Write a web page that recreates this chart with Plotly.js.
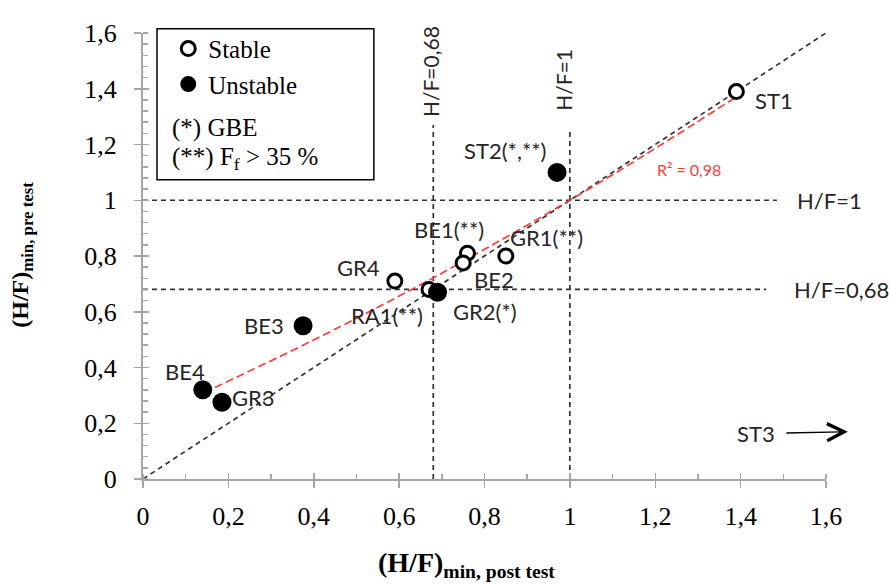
<!DOCTYPE html>
<html><head><meta charset="utf-8">
<script src="https://cdn.plot.ly/plotly-3.0.1.min.js"></script>
<style>html,body{margin:0;padding:0;background:#fff}#chart{width:889px;height:585px}</style>
</head><body><div id="chart"></div><script>
// ---- data ----
const stableNames = ['ST1','GR1(**)','BE1(**)','BE2','GR4','RA1(**)'];
const stableX = [1.39,0.85,0.76,0.75,0.59,0.67];
const stableY = [1.39,0.80,0.81,0.775,0.71,0.68];
const unstableNames = ['ST2(*,**)','GR2(*)','BE3','BE4','GR3'];
const unstableX = [0.97,0.69,0.375,0.14,0.185];
const unstableY = [1.10,0.67,0.55,0.32,0.275];
const trendX = [0.143,0.4,0.627,0.8,1.0,1.2,1.391];
const trendY = [0.31,0.499,0.678,0.824,1.0,1.186,1.372];
const identityLine = [0,1.6];
const thresholds = [0.68,1];
const thresholdLabels = ['H/F=0,68','H/F=1'];
const vLineTop = [1.27,1.245];
const hLineEnd = [1.46,1.485];
const r2Text = 'R² = 0,98';
const offscaleName = 'ST3';

// ---- styles / label placement ----
const labelOffsets = {
  'ST1':[38,-9],'GR1(**)':[41,19],'BE1(**)':[-18,24],'BE2':[31,-17],'GR4':[-36,14],
  'RA1(**)':[-42,-26],'ST2(*,**)':[-52,22],'GR2(*)':[47,-19],'BE3':[-39,0],'BE4':[-18,18],'GR3':[32,5]
};
const dashCol = '#333333';
const labelFont = {family:'Lato, "Open Sans", sans-serif', size:22, color:'#262626'};
const serif = 'Liberation Serif, "Times New Roman", serif';

const traces = [];
traces.push({x:identityLine, y:identityLine, mode:'lines', line:{color:dashCol,width:1.7,dash:'5px,4px'}, showlegend:false, hoverinfo:'skip'});
thresholds.forEach((t,i)=>{
  traces.push({x:[t,t], y:[0,vLineTop[i]], mode:'lines', line:{color:dashCol,width:1.7,dash:'5px,4px'}, showlegend:false, hoverinfo:'skip'});
  traces.push({x:[0,hLineEnd[i]], y:[t,t], mode:'lines', line:{color:dashCol,width:1.7,dash:'5px,4px'}, showlegend:false, hoverinfo:'skip'});
});
traces.push({x:trendX, y:trendY, mode:'lines', line:{color:'#ff3b3b',width:1.7,dash:'8px,4px',shape:'spline'}, showlegend:false, hoverinfo:'skip'});
traces.push({x:stableX, y:stableY, text:stableNames, mode:'markers', name:'Stable',
  marker:{size:14, color:'#ffffff', line:{color:'#000000',width:3}}});
traces.push({x:unstableX, y:unstableY, text:unstableNames, mode:'markers', name:'Unstable',
  marker:{size:19, color:'#000000', line:{color:'#000000',width:0}}});
// overlay axes (inside half of major ticks)
traces.push({x:[0], y:[0], xaxis:'x2', yaxis:'y2', mode:'markers', marker:{opacity:0}, showlegend:false, hoverinfo:'skip'});

const ann = [];
stableNames.concat(unstableNames).forEach((n,i)=>{
  const isS = i < stableNames.length;
  const x = isS ? stableX[i] : unstableX[i-stableNames.length];
  const y = isS ? stableY[i] : unstableY[i-stableNames.length];
  const o = labelOffsets[n];
  ann.push({x:x, y:y, xref:'x', yref:'y', text:n, showarrow:false, xshift:o[0], yshift:o[1], font:labelFont});
});
ann.push({x:thresholds[0], y:1.461, xref:'x', yref:'y', text:thresholdLabels[0], textangle:-90, showarrow:false, xshift:-3, font:Object.assign({},labelFont,{size:21})});
ann.push({x:thresholds[1], y:1.432, xref:'x', yref:'y', text:thresholdLabels[1], textangle:-90, showarrow:false, xshift:-6, font:Object.assign({},labelFont,{size:21})});
ann.push({x:1.527, y:thresholds[1], xref:'x', yref:'y', text:thresholdLabels[1], xanchor:'left', showarrow:false, font:labelFont});
ann.push({x:1.520, y:thresholds[0], xref:'x', yref:'y', text:thresholdLabels[0], xanchor:'left', showarrow:false, font:labelFont});
ann.push({x:1.279, y:1.11, xref:'x', yref:'y', text:r2Text, showarrow:false, font:{family:'Lato, sans-serif', size:16, color:'#ff3b3b'}});
ann.push({x:1.032, y:0.106, xref:'paper', yref:'paper', text:offscaleName, showarrow:true, ax:-92, ay:2, startstandoff:10,
  arrowhead:5, arrowsize:2.4, arrowwidth:1.4, arrowcolor:'#000000', font:labelFont});
// legend extra lines
ann.push({x:0.0395, y:0.788, xref:'paper', yref:'paper', xanchor:'left', yanchor:'middle', text:'(*) GBE', showarrow:false, font:{family:serif,size:25,color:'#000'}});
ann.push({x:0.0395, y:0.718, xref:'paper', yref:'paper', xanchor:'left', yanchor:'middle', text:'(**) F<sub>f</sub> > 35 %', showarrow:false, font:{family:serif,size:25,color:'#000'}});
// axis titles
ann.push({x:0.473, y:-0.192, xref:'paper', yref:'paper', xanchor:'center', yanchor:'middle', text:'<b>(H/F)<sub>min, post test</sub></b>', showarrow:false, font:{family:serif,size:28,color:'#000'}});
ann.push({x:-0.177, y:0.503, xref:'paper', yref:'paper', xanchor:'center', yanchor:'middle', textangle:-90, text:'<b>(H/F)<sub>min, pre test</sub></b>', showarrow:false, font:{family:serif,size:24,color:'#000'}});

const axisCommon = {
  range:[0,1.6], dtick:0.2, tick0:0, showgrid:false, zeroline:false, showline:true,
  linecolor:'#a6a6a6', linewidth:2, ticks:'outside', ticklen:7, tickwidth:1.5, tickcolor:'#a6a6a6',
  minor:{ticks:'inside', ticklen:5, tickwidth:1.5, tickcolor:'#a6a6a6', showgrid:false},
  tickfont:{family:serif, size:26, color:'#000'}, fixedrange:true
};

const layout = {
  width:889, height:585, margin:{l:143, r:63, t:33, b:106},
  paper_bgcolor:'#ffffff', plot_bgcolor:'#ffffff', separators:', ',
  xaxis: Object.assign({}, axisCommon, {minor:Object.assign({}, axisCommon.minor,{dtick:0.1}), ticklabelstandoff:6}),
  yaxis: Object.assign({}, axisCommon, {minor:Object.assign({}, axisCommon.minor,{dtick:0.04}), ticklabelstandoff:12}),
  xaxis2:{overlaying:'x', range:[0,1.6], dtick:0.2, ticks:'inside', ticklen:6, tickwidth:1.5, tickcolor:'#a6a6a6', showticklabels:false, showgrid:false, zeroline:false, showline:false, fixedrange:true},
  yaxis2:{overlaying:'y', range:[0,1.6], dtick:0.2, ticks:'inside', ticklen:6, tickwidth:1.5, tickcolor:'#a6a6a6', showticklabels:false, showgrid:false, zeroline:false, showline:false, fixedrange:true},
  showlegend:true,
  legend:{x:0.037, y:1.016, xanchor:'left', yanchor:'top', bgcolor:'rgba(0,0,0,0)', borderwidth:0,
    font:{family:serif, size:25, color:'#000'}, tracegroupgap:0, itemwidth:30},
  shapes:[{type:'rect', xref:'paper', yref:'paper', x0:0.0205, x1:0.338, y0:0.671, y1:1.0096, line:{color:'#000',width:1.5}, fillcolor:'rgba(0,0,0,0)'}],
  annotations:ann,
  hovermode:false
};
Plotly.newPlot('chart', traces, layout, {displayModeBar:false, staticPlot:true});
</script></body></html>
